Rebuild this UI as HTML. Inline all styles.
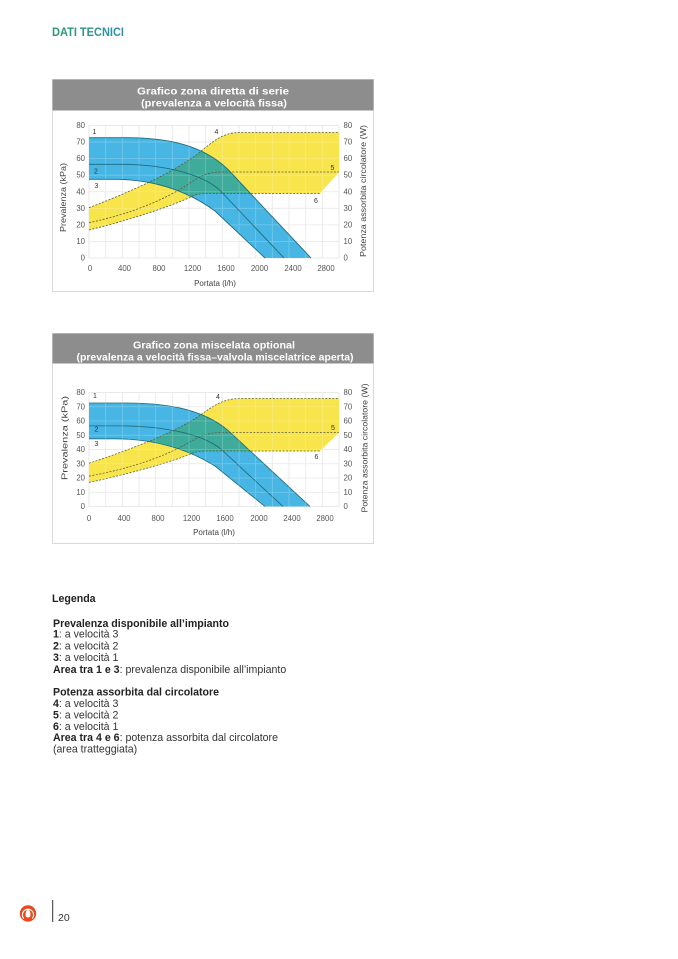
<!DOCTYPE html>
<html><head><meta charset="utf-8">
<style>
html,body{margin:0;padding:0;background:#fff;}
svg{display:block;}
text{font-family:"Liberation Sans",Arial,sans-serif;}
</style></head>
<body>
<svg width="678" height="959" viewBox="0 0 678 959" xmlns="http://www.w3.org/2000/svg">
<defs>
<linearGradient id="tg" x1="0" x2="1" y1="0" y2="0">
<stop offset="0" stop-color="#2a9a6c"/><stop offset="1" stop-color="#2f8fae"/>
</linearGradient>
<clipPath id="bc1"><path d="M89,137.7 L125,137.7 C160,137.7 200,142 228,169.5 L311,258 L265,258 L215,211 C185,189 150,179.3 115,179.3 L89,179.3 Z"/></clipPath>
<clipPath id="bc2"><path d="M89,137.7 L125,137.7 C160,137.7 200,142 228,169.5 L311,258 L265,258 L215,211 C185,189 150,179.3 115,179.3 L89,179.3 Z"/></clipPath>
</defs>

<text x="52" y="36" font-size="12" font-weight="bold" fill="url(#tg)" textLength="72" lengthAdjust="spacingAndGlyphs">DATI TECNICI</text>

<!-- ============ CHART 1 ============ -->
<rect x="52.5" y="79.5" width="321" height="212" fill="#fff" stroke="#d9d9d9" stroke-width="1"/>
<rect x="52.5" y="79.5" width="321" height="31" fill="#8d8d8d"/>
<text x="213" y="94.5" font-size="10" font-weight="bold" fill="#fff" text-anchor="middle" textLength="152" lengthAdjust="spacingAndGlyphs">Grafico zona diretta di serie</text>
<text x="214" y="106.5" font-size="10" font-weight="bold" fill="#fff" text-anchor="middle" textLength="146" lengthAdjust="spacingAndGlyphs">(prevalenza a velocità fissa)</text>

<g>
<path d="M89,125.5V258M105.67,125.5V258M122.33,125.5V258M139,125.5V258M155.67,125.5V258M172.33,125.5V258M189,125.5V258M205.67,125.5V258M222.33,125.5V258M239,125.5V258M255.67,125.5V258M272.33,125.5V258M289,125.5V258M305.67,125.5V258M322.33,125.5V258M339,125.5V258M89,125.5H339M89,142.06H339M89,158.63H339M89,175.19H339M89,191.75H339M89,208.31H339M89,224.88H339M89,241.44H339M89,258H339" stroke="#e2e2e2" stroke-width="0.8" fill="none"/>
<path d="M89,207.7 C130,192 175,172 200,152 C212,142.4 222,132.5 240,132.5 L339,132.5 L339,172 L320,193.5 L210,193.5 C205,193.5 200,193.5 195,195 C175,205 130,220 89,230 Z" fill="#f8e44b"/>
<path d="M89,137.7 L125,137.7 C160,137.7 200,142 228,169.5 L311,258 L265,258 L215,211 C185,189 150,179.3 115,179.3 L89,179.3 Z" fill="#47b6e4"/>
<path clip-path="url(#bc1)" d="M89,207.7 C130,192 175,172 200,152 C212,142.4 222,132.5 240,132.5 L339,132.5 L339,172 L320,193.5 L210,193.5 C205,193.5 200,193.5 195,195 C175,205 130,220 89,230 Z" fill="#3eab9b"/>
<path d="M105.67,125.5V258M122.33,125.5V258M139,125.5V258M155.67,125.5V258M172.33,125.5V258M189,125.5V258M205.67,125.5V258M222.33,125.5V258M239,125.5V258M255.67,125.5V258M272.33,125.5V258M289,125.5V258M305.67,125.5V258M322.33,125.5V258M89,142.06H339M89,158.63H339M89,175.19H339M89,191.75H339M89,208.31H339M89,224.88H339M89,241.44H339" stroke="#ffffff" stroke-opacity="0.25" stroke-width="0.8" fill="none"/>
<g fill="none" stroke="#1f6c7c" stroke-width="0.9">
<path d="M89,137.7 L125,137.7 C160,137.7 200,142 228,169.5 L311,258"/>
<path d="M89,164.3 L122,164.3 C155,164.3 202,171.4 222,192.5 L284,258"/>
<path d="M89,179.3 L115,179.3 C150,179.3 185,189 215,211 L265,258"/>
</g>
<g fill="none" stroke="#5b5a3c" stroke-width="0.8" stroke-dasharray="2,1.5">
<path d="M89,207.7 C130,192 175,172 200,152 C212,142.4 222,132.5 240,132.5 L339,132.5"/>
<path d="M89,222.7 C130,214 165,200 190,183 C200,176.2 208,172 222,172 L339,172"/>
<path d="M89,230 C130,220 175,205 195,195 C200,193.5 205,193.5 210,193.5 L320,193.5"/>
</g>
</g>
<g font-size="7" fill="#333">
<text x="92.5" y="134">1</text>
<text x="94" y="173.5">2</text>
<text x="94.5" y="188">3</text>
<text x="214.5" y="134">4</text>
<text x="330.5" y="170">5</text>
<text x="314" y="203">6</text>
</g>
<g font-size="7.8" fill="#555" text-anchor="end">
<text x="85" y="128">80</text><text x="85" y="144.6">70</text><text x="85" y="161.1">60</text><text x="85" y="177.7">50</text><text x="85" y="194.3">40</text><text x="85" y="210.8">30</text><text x="85" y="227.4">20</text><text x="85" y="243.9">10</text><text x="85" y="260.5">0</text>
</g>
<g font-size="7.8" fill="#555">
<text x="343.5" y="128">80</text><text x="343.5" y="144.6">70</text><text x="343.5" y="161.1">60</text><text x="343.5" y="177.7">50</text><text x="343.5" y="194.3">40</text><text x="343.5" y="210.8">30</text><text x="343.5" y="227.4">20</text><text x="343.5" y="243.9">10</text><text x="343.5" y="260.5">0</text>
</g>
<g font-size="7.8" fill="#555" text-anchor="middle">
<text x="90" y="271">0</text><text x="124.5" y="271">400</text><text x="159" y="271">800</text><text x="192.5" y="271">1200</text><text x="226" y="271">1600</text><text x="259.5" y="271">2000</text><text x="293" y="271">2400</text><text x="326" y="271">2800</text>
</g>
<text x="215" y="286" font-size="8" fill="#444" text-anchor="middle">Portata (l/h)</text>
<text transform="translate(66,197.5) rotate(-90)" font-size="8" fill="#444" text-anchor="middle" textLength="69" lengthAdjust="spacingAndGlyphs">Prevalenza (kPa)</text>
<text transform="translate(366,191) rotate(-90)" font-size="8" fill="#444" text-anchor="middle" textLength="132" lengthAdjust="spacingAndGlyphs">Potenza assorbita circolatore (W)</text>

<!-- ============ CHART 2 ============ -->
<rect x="52.5" y="333.5" width="321" height="210" fill="#fff" stroke="#d9d9d9" stroke-width="1"/>
<rect x="52.5" y="333.5" width="321" height="30" fill="#8d8d8d"/>
<text x="214" y="348.5" font-size="10" font-weight="bold" fill="#fff" text-anchor="middle" textLength="162" lengthAdjust="spacingAndGlyphs">Grafico zona miscelata optional</text>
<text x="215" y="360.5" font-size="10" font-weight="bold" fill="#fff" text-anchor="middle" textLength="277" lengthAdjust="spacingAndGlyphs">(prevalenza a velocità fissa–valvola miscelatrice aperta)</text>

<path d="M89,392.5V506.5M105.67,392.5V506.5M122.33,392.5V506.5M139,392.5V506.5M155.67,392.5V506.5M172.33,392.5V506.5M189,392.5V506.5M205.67,392.5V506.5M222.33,392.5V506.5M239,392.5V506.5M255.67,392.5V506.5M272.33,392.5V506.5M289,392.5V506.5M305.67,392.5V506.5M322.33,392.5V506.5M339,392.5V506.5M89,392.5H339M89,406.75H339M89,421H339M89,435.25H339M89,449.5H339M89,463.75H339M89,478H339M89,492.25H339M89,506.5H339" stroke="#e2e2e2" stroke-width="0.8" fill="none"/>
<g transform="matrix(1,0,0,0.8604,0,284.52)">
<path d="M89,207.7 C130,192 175,172 200,152 C212,142.4 222,132.5 240,132.5 L339,132.5 L339,172 L320,193.5 L210,193.5 C205,193.5 200,193.5 195,195 C175,205 130,220 89,230 Z" fill="#f8e44b"/>
<path d="M89,137.7 L125,137.7 C160,137.7 200,142 228,169.5 L310,258 L265,258 L215,211 C185,189 150,179.3 115,179.3 L89,179.3 Z" fill="#47b6e4"/>
<path clip-path="url(#bc2)" d="M89,207.7 C130,192 175,172 200,152 C212,142.4 222,132.5 240,132.5 L339,132.5 L339,172 L320,193.5 L210,193.5 C205,193.5 200,193.5 195,195 C175,205 130,220 89,230 Z" fill="#3eab9b"/>
<g fill="none" stroke="#1f6c7c" stroke-width="0.95">
<path d="M89,137.7 L125,137.7 C160,137.7 200,142 228,169.5 L310,258"/>
<path d="M89,164.3 L122,164.3 C155,164.3 202,171.4 222,192.5 L283,258"/>
<path d="M89,179.3 L115,179.3 C150,179.3 185,189 215,211 L265,258"/>
</g>
<g fill="none" stroke="#5b5a3c" stroke-width="0.85" stroke-dasharray="2,1.5">
<path d="M89,207.7 C130,192 175,172 200,152 C212,142.4 222,132.5 240,132.5 L339,132.5"/>
<path d="M89,222.7 C130,214 165,200 190,183 C200,176.2 208,172 222,172 L339,172"/>
<path d="M89,230 C130,220 175,205 195,195 C200,193.5 205,193.5 210,193.5 L320,193.5"/>
</g>
</g>
<path d="M105.67,392.5V506.5M122.33,392.5V506.5M139,392.5V506.5M155.67,392.5V506.5M172.33,392.5V506.5M189,392.5V506.5M205.67,392.5V506.5M222.33,392.5V506.5M239,392.5V506.5M255.67,392.5V506.5M272.33,392.5V506.5M289,392.5V506.5M305.67,392.5V506.5M322.33,392.5V506.5M89,406.75H339M89,421H339M89,435.25H339M89,449.5H339M89,463.75H339M89,478H339M89,492.25H339" stroke="#ffffff" stroke-opacity="0.25" stroke-width="0.8" fill="none"/>
<g font-size="7" fill="#333">
<text x="93" y="398">1</text>
<text x="94.5" y="431.5">2</text>
<text x="94.5" y="446">3</text>
<text x="216" y="399">4</text>
<text x="331" y="430">5</text>
<text x="314.5" y="459">6</text>
</g>
<g font-size="7.8" fill="#555" text-anchor="end">
<text x="85" y="395">80</text><text x="85" y="409.25">70</text><text x="85" y="423.5">60</text><text x="85" y="437.75">50</text><text x="85" y="452">40</text><text x="85" y="466.25">30</text><text x="85" y="480.5">20</text><text x="85" y="494.75">10</text><text x="85" y="509">0</text>
</g>
<g font-size="7.8" fill="#555">
<text x="343.5" y="395">80</text><text x="343.5" y="409.25">70</text><text x="343.5" y="423.5">60</text><text x="343.5" y="437.75">50</text><text x="343.5" y="452">40</text><text x="343.5" y="466.25">30</text><text x="343.5" y="480.5">20</text><text x="343.5" y="494.75">10</text><text x="343.5" y="509">0</text>
</g>
<g font-size="7.8" fill="#555" text-anchor="middle">
<text x="89" y="521">0</text><text x="124" y="521">400</text><text x="158" y="521">800</text><text x="191.5" y="521">1200</text><text x="225" y="521">1600</text><text x="259" y="521">2000</text><text x="292" y="521">2400</text><text x="325" y="521">2800</text>
</g>
<text x="214" y="535" font-size="8" fill="#444" text-anchor="middle">Portata (l/h)</text>
<text transform="translate(67.5,438) rotate(-90)" font-size="8" fill="#444" text-anchor="middle" textLength="84" lengthAdjust="spacingAndGlyphs">Prevalenza (kPa)</text>
<text transform="translate(367.5,448) rotate(-90)" font-size="8" fill="#444" text-anchor="middle" textLength="129" lengthAdjust="spacingAndGlyphs">Potenza assorbita circolatore (W)</text>

<!-- ============ LEGEND ============ -->
<g font-size="10.6" fill="#333">
<text x="52" y="602" font-weight="bold" fill="#222">Legenda</text>
<text x="53" y="627" font-weight="bold" fill="#222">Prevalenza disponibile all’impianto</text>
<text x="53" y="637.5"><tspan font-weight="bold" fill="#222">1</tspan>: a velocità 3</text>
<text x="53" y="649.5"><tspan font-weight="bold" fill="#222">2</tspan>: a velocità 2</text>
<text x="53" y="661"><tspan font-weight="bold" fill="#222">3</tspan>: a velocità 1</text>
<text x="53" y="673"><tspan font-weight="bold" fill="#222">Area tra 1 e 3</tspan>: prevalenza disponibile all’impianto</text>
<text x="53" y="695.5" font-weight="bold" fill="#222">Potenza assorbita dal circolatore</text>
<text x="53" y="707"><tspan font-weight="bold" fill="#222">4</tspan>: a velocità 3</text>
<text x="53" y="718.5"><tspan font-weight="bold" fill="#222">5</tspan>: a velocità 2</text>
<text x="53" y="730"><tspan font-weight="bold" fill="#222">6</tspan>: a velocità 1</text>
<text x="53" y="741"><tspan font-weight="bold" fill="#222">Area tra 4 e 6</tspan>: potenza assorbita dal circolatore</text>
<text x="53" y="752.5">(area tratteggiata)</text>
</g>

<!-- ============ FOOTER ============ -->
<circle cx="28" cy="913.5" r="8.2" fill="#e64a1e"/>
<path d="M23.8,918.5 A5.6,5.6 0 1 1 32.2,918.5" fill="none" stroke="#fff" stroke-width="1.1"/>
<path d="M28,908.5 C30.3,911.3 30.8,913.7 30.3,916 C29.8,918 26.2,918 25.7,916 C25.2,913.7 25.7,911.3 28,908.5 Z" fill="#fff"/>
<line x1="52.7" y1="900" x2="52.7" y2="922" stroke="#333" stroke-width="1"/>
<text x="58" y="921" font-size="10.5" fill="#333">20</text>
</svg>
</body></html>
